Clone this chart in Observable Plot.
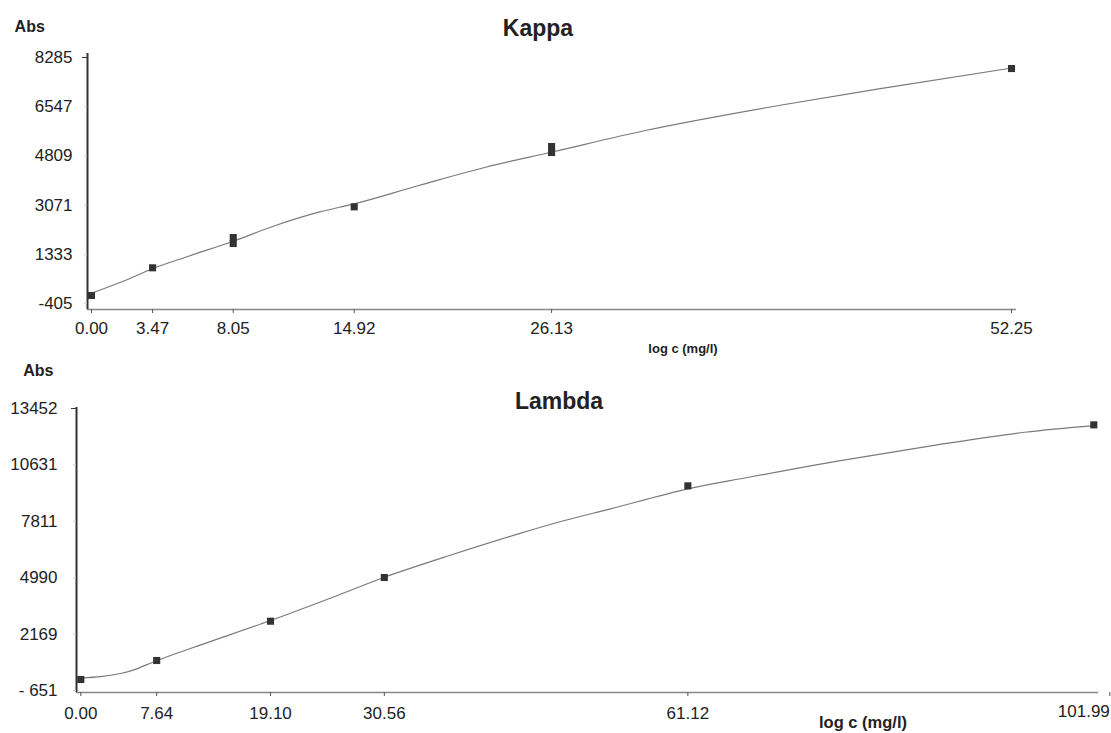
<!DOCTYPE html>
<html><head><meta charset="utf-8">
<script src="https://cdn.jsdelivr.net/npm/d3@7"></script>
<script src="https://cdn.jsdelivr.net/npm/@observablehq/plot@0.6"></script>
<style>
body{margin:0;background:#fff;font-family:"Liberation Sans",Arial,sans-serif;}
#wrap{position:relative;width:1111px;height:733px;overflow:hidden;background:#fff}
.panel{position:absolute;left:0}
.lbl{position:absolute;transform:translate(-50%,-50%);line-height:1;color:#222;font-weight:bold;white-space:nowrap}
</style></head><body>
<div id="wrap"></div>
<script>
// ---- Kappa ----
const kappaPointX   = [0, 3.47, 8.05, 8.05, 14.92, 26.13, 26.13, 52.25];
const kappaPointAbs = [-122, 856, 1926, 1714, 3010, 5140, 4928, 7895];
const kappaCurveX   = [0, 2.12, 3.45, 5.34, 8.05, 10.45, 12.91, 14.92, 18.59, 22.38, 26.16, 31.46, 39.03, 44.71, 52.19];
const kappaCurveAbs = [-41, 460, 821, 1230, 1795, 2350, 2820, 3116, 3763, 4409, 4946, 5705, 6588, 7178, 7906];
const kappaXTicks = [0, 3.47, 8.05, 14.92, 26.13, 52.25];
const kappaYTicks = [-405, 1333, 3071, 4809, 6547, 8285];
const kappaYTickLabels = ["-405", "1333", "3071", "4809", "6547", "8285"];

// ---- Lambda ----
const lambdaPointX   = [0, 7.64, 19.10, 30.56, 61.12, 101.99];
const lambdaPointAbs = [-101, 849, 2814, 4999, 9584, 12634];
const lambdaCurveX   = [0.14, 2.0, 4.0, 5.34, 7.69, 12.38, 19.10, 25.82, 30.58, 37.12, 44.07, 48.70, 53.33, 61.12, 67.23, 76.49, 85.75, 95.02, 101.96];
const lambdaCurveAbs = [-16, 40, 200, 380, 849, 1684, 2849, 4099, 5014, 6099, 7184, 7849, 8434, 9434, 10014, 10849, 11599, 12264, 12599];
const lambdaXTicks = [0, 7.64, 19.10, 30.56, 61.12, 101.99];
const lambdaYTicks = [-651, 2169, 4990, 7811, 10631, 13452];
const lambdaYTickLabels = ["- 651", "2169", "4990", "7811", "10631", "13452"];

const FONT = '"Liberation Sans", Arial, sans-serif';

function panel(o) {
  const pts = o.px.map((x, i) => ({x, y: o.py[i]}));
  const crv = o.cx.map((x, i) => ({x, y: o.cy[i]}));
  const yTop = o.yTicks[o.yTicks.length - 1];
  const xLast = o.xTicks[o.xTicks.length - 1];
  const xMain = o.shiftLast ? o.xTicks.slice(0, -1) : o.xTicks;
  const marks = [
    Plot.line(crv, {x: "x", y: "y", stroke: "#7a7a7a", strokeWidth: 1.2, curve: o.curve}),
    Plot.dot(pts, {x: "x", y: "y", symbol: "square", r: 4, fill: "#333", stroke: "none"}),
    Plot.ruleY([o.yDomain[0]], {stroke: "#888", strokeWidth: 1.6}),
    Plot.ruleX([o.xDomain[0]], {stroke: "#333", strokeWidth: 2}),
    Plot.axisX({ticks: xMain, tickFormat: d => d.toFixed(2), tickSize: 4, tickPadding: o.xPad,
                stroke: "#555", label: null}),
    Plot.axisY({ticks: o.yTicks, tickFormat: d => o.yLabels[o.yTicks.indexOf(d)], tickSize: 3,
                tickPadding: o.yPad, stroke: "#ccc", label: null}),
    Plot.axisY({ticks: [yTop], tickFormat: () => "", tickSize: 5, stroke: "#333", label: null})
  ];
  if (o.shiftLast) {
    marks.push(Plot.axisX({ticks: [xLast], tickFormat: d => d.toFixed(2), tickSize: 4, tickPadding: o.xPad - 2,
                           stroke: "#555", label: null, textAnchor: "end", dx: 16}));
  }
  return Plot.plot({
    width: 1111, height: o.height,
    marginLeft: o.ml, marginRight: o.mr, marginTop: o.mt, marginBottom: o.mb,
    style: {fontFamily: FONT, fontSize: "17px", color: "#222", background: "transparent"},
    x: {domain: o.xDomain},
    y: {domain: o.yDomain},
    marks
  });
}

const wrap = document.getElementById("wrap");

const p1 = panel({
  height: 360, ml: 87, mr: 95, mt: 53, mb: 51,
  xDomain: [-0.227, 52.534], yDomain: [-617, 8426],
  px: kappaPointX, py: kappaPointAbs, cx: kappaCurveX, cy: kappaCurveAbs,
  xTicks: kappaXTicks, yTicks: kappaYTicks, yLabels: kappaYTickLabels, xPad: 8, yPad: 12,
  curve: "monotone-x"
});
p1.classList.add("panel"); p1.style.top = "0px";
wrap.appendChild(p1);

const p2 = panel({
  height: 373, ml: 76, mr: 13, mt: 47, mb: 41,
  xDomain: [-0.433, 102.463], yDomain: [-751, 13502],
  px: lambdaPointX, py: lambdaPointAbs, cx: lambdaCurveX, cy: lambdaCurveAbs,
  xTicks: lambdaXTicks, yTicks: lambdaYTicks, yLabels: lambdaYTickLabels, xPad: 10, yPad: 16,
  shiftLast: true, curve: "catmull-rom"
});
p2.classList.add("panel"); p2.style.top = "360px";
wrap.appendChild(p2);

const labels = [
  ["Abs", 16, 29.7, 27],
  ["Kappa", 23, 538, 28],
  ["log c (mg/l)", 13, 683, 348],
  ["Abs", 16, 38.3, 371],
  ["Lambda", 23, 559, 401],
  ["log c (mg/l)", 16.5, 863, 722]
];
for (const [t, fs, x, y] of labels) {
  const d = document.createElement("div");
  d.className = "lbl";
  d.textContent = t;
  d.style.fontSize = fs + "px";
  d.style.left = x + "px";
  d.style.top = y + "px";
  wrap.appendChild(d);
}
</script>
</body></html>
